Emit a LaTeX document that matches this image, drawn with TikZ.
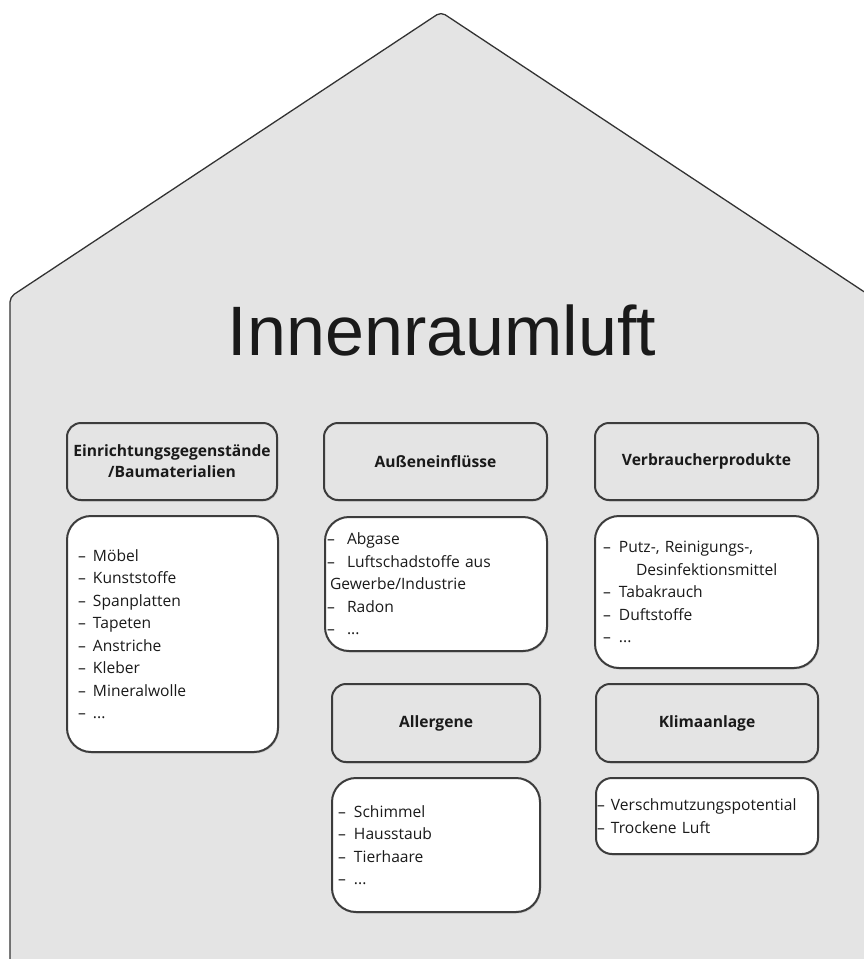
\documentclass[tikz,border=0pt]{standalone}
\usepackage{fontspec}
\setmainfont{Open Sans}
\newfontfamily\titlefont{Liberation Sans}
\usetikzlibrary{shadows}
\definecolor{housefill}{HTML}{E4E4E4}
\definecolor{houseline}{HTML}{333333}
\definecolor{boxline}{HTML}{3C3C3C}
\definecolor{ink}{HTML}{1A1A1A}
\newcommand{\itm}[1][15pt]{\makebox[#1][l]{–}}

\begin{document}
\begin{tikzpicture}[x=1pt, y=-1pt,
  hdr/.style={rectangle, rounded corners=14pt, draw=boxline, line width=2pt,
    fill=housefill, align=center, text=ink, inner sep=2pt,
    font=\fontsize{15.6}{21}\selectfont\bfseries, minimum height=77pt,
    drop shadow={shadow xshift=1pt, shadow yshift=-1.5pt, opacity=.25}},
  lst/.style={rectangle, rounded corners=24pt, draw=boxline, line width=2pt,
    fill=white, align=left, text=ink, inner ysep=0pt,
    font=\fontsize{15.6}{22.5}\selectfont,
    drop shadow={shadow xshift=1pt, shadow yshift=-1.5pt, opacity=.25}},
]

% Frame
\path[use as bounding box, clip] (0,0) rectangle (864,959);

% House
\draw[houseline, line width=1.3pt, fill=housefill, rounded corners=5pt]
  (10,990) -- (10,297) -- (441,12) -- (872,297) -- (872,990) -- cycle;

% Title
\node[font=\titlefont\fontsize{70}{80}\selectfont, text=ink, anchor=base]
  (titel) at (442,355) {Innenraumluft};

% Column 1: Einrichtung
\node[hdr, minimum width=210pt] (einr) at (172,461.5)
  {Einrichtungsgegenstände\\/Baumaterialien};
\node[lst, text width=189pt, inner xsep=11pt, minimum height=236pt]
  (einrL) at (172.5,634)
  {\itm Möbel\\\itm Kunststoffe\\\itm Spanplatten\\\itm Tapeten\\
   \itm Anstriche\\\itm Kleber\\\itm Mineralwolle\\\itm ...};

% Column 2: Aussen / Allergene
\node[hdr, minimum width=223pt] (aussen) at (435.5,461.5) {Außeneinflüsse};
\node[lst, text width=218pt, inner xsep=2pt, minimum height=134pt]
  (aussenL) at (436,584)
  {\itm[20pt]Abgase\\\itm[20pt]Luftschadstoffe aus\\
   \hspace*{3pt}Gewerbe/Industrie\\\itm[20pt]Radon\\\itm[20pt]...};

\node[hdr, minimum width=208pt, minimum height=78pt] (allerg) at (436,723) {Allergene};
\node[lst, text width=196pt, inner xsep=6pt, minimum height=134pt]
  (allergL) at (436,845)
  {\itm[16pt]Schimmel\\\itm[16pt]Hausstaub\\\itm[16pt]Tierhaare\\\itm[16pt]...};

% Column 3: Verbraucher / Klima
\node[hdr, minimum width=223pt] (verbr) at (706.5,461.5) {Verbraucherprodukte};
\node[lst, text width=207pt, inner xsep=8pt, minimum height=152pt]
  (verbrL) at (706.5,592)
  {\itm[16pt]Putz-, Reinigungs-,\\\hspace*{33pt}Desinfektionsmittel\\
   \itm[16pt]Tabakrauch\\\itm[16pt]Duftstoffe\\\itm[16pt]...};

\node[hdr, minimum width=222pt, minimum height=78pt] (klima) at (707,723) {Klimaanlage};
\node[lst, rounded corners=16pt, text width=220pt, inner xsep=1pt, minimum height=76pt]
  (klimaL) at (707,816)
  {\itm[14pt]Verschmutzungspotential\\\itm[14pt]Trockene Luft};

\end{tikzpicture}
\end{document}
